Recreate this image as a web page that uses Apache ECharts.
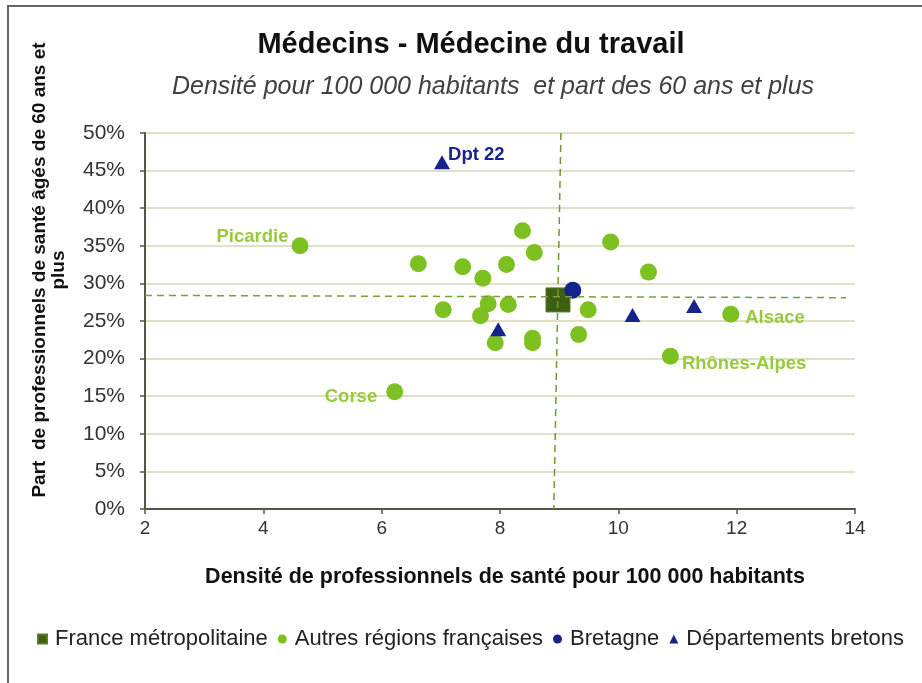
<!DOCTYPE html>
<html>
<head>
<meta charset="utf-8" />
<script src="https://cdn.jsdelivr.net/npm/echarts@6/dist/echarts.min.js"></script>
<style>
  html, body { margin: 0; padding: 0; background: #fff; }
  #chart { width: 922px; height: 683px; }
</style>
</head>
<body>
<div id="chart"></div>
<script>
// Autres régions françaises
var autresX = [6.62, 7.37, 8.11, 7.71, 8.38, 8.58, 9.87, 10.51, 7.04, 7.80, 8.14, 7.67, 9.49, 7.92, 8.55, 8.55, 9.33, 11.90, 10.88, 4.62, 6.22];
var autresY = [32.6, 32.2, 32.5, 30.7, 37.0, 34.1, 35.5, 31.5, 26.5, 27.3, 27.2, 25.7, 26.5, 22.1, 22.7, 22.1, 23.2, 25.9, 20.3, 35.0, 15.6];
var autresNoms = ["", "", "", "", "", "", "", "", "", "", "", "", "", "", "", "", "", "Alsace", "Rhônes-Alpes", "Picardie", "Corse"];
// France métropolitaine
var franceX = [8.98];
var franceY = [27.8];
// Bretagne
var bretagneX = [9.23];
var bretagneY = [29.1];
// Départements bretons
var deptX = [7.02, 7.97, 10.24, 11.28];
var deptY = [46.1, 23.9, 25.8, 27.0];
var deptNoms = ["Dpt 22", "", "", ""];
// lignes de moyenne (pointillés)
var moyVertX = [9.03, 8.91];
var moyVertY = [50, 0];
var moyHorX = [2, 13.85];
var moyHorY = [28.4, 28.1];

var legendNoms = ["France métropolitaine", "Autres régions françaises", "Bretagne", "Départements bretons"];

// placement des étiquettes
var placement = {
  "Picardie": { position: "left", distance: 3, offset: [0, -9] },
  "Corse": { position: "left", distance: 9, offset: [0, 5] },
  "Alsace": { position: "right", distance: 6, offset: [0, 4] },
  "Rhônes-Alpes": { position: "right", distance: 3, offset: [0, 8] },
  "Dpt 22": { position: "right", distance: -2, offset: [0, -7] },
};

function points(xs, ys, noms, couleur) {
  return xs.map(function (x, i) {
    var item = { value: [x, ys[i]] };
    var nom = noms ? noms[i] : "";
    if (nom) {
      var p = placement[nom];
      item.name = nom;
      item.label = {
        show: true,
        formatter: nom,
        position: p.position,
        distance: p.distance,
        offset: p.offset,
        color: couleur,
        fontFamily: "Liberation Sans",
        fontWeight: "bold",
        fontSize: 18.5,
      };
    }
    return item;
  });
}

function ligne(xs, ys) {
  return xs.map(function (x, i) { return [x, ys[i]]; });
}

var chart = echarts.init(document.getElementById("chart"));
var font = "Liberation Sans";

var options = {
  animation: false,
  textStyle: { fontFamily: font },
  graphic: [
    {
      type: "rect",
      shape: { x: 8, y: 6, width: 1000, height: 1000 },
      style: { fill: "none", stroke: "#666", lineWidth: 2 },
      silent: true,
    },
    {
      type: "text",
      x: 471, y: 45,
      style: {
        text: "Médecins - Médecine du travail",
        font: "bold 29px 'Liberation Sans'",
        fill: "#111",
        textAlign: "center",
        textVerticalAlign: "middle",
      },
    },
    {
      type: "text",
      x: 493, y: 87,
      style: {
        text: "Densité pour 100 000 habitants  et part des 60 ans et plus",
        font: "italic 25px 'Liberation Sans'",
        fill: "#404040",
        textAlign: "center",
        textVerticalAlign: "middle",
      },
    },
    {
      type: "text",
      x: 49, y: 270,
      rotation: Math.PI / 2,
      style: {
        text: "Part  de professionnels de santé âgés de 60 ans et\nplus",
        font: "bold 19px 'Liberation Sans'",
        fill: "#111",
        textAlign: "center",
        textVerticalAlign: "middle",
        lineHeight: 19,
      },
    },
  ],
  legend: {
    left: 32,
    top: 623,
    itemWidth: 9,
    itemHeight: 9,
    itemGap: 10,
    textStyle: { fontFamily: font, fontSize: 22, color: "#222", padding: [0, 0, 0, 3] },
    data: [
      { name: legendNoms[0], icon: "rect" },
      { name: legendNoms[1], icon: "circle" },
      { name: legendNoms[2], icon: "circle" },
      { name: legendNoms[3], icon: "triangle" },
    ],
  },
  grid: { left: 145, right: 67, top: 133, bottom: 174 },
  xAxis: {
    type: "value",
    min: 2,
    max: 14,
    interval: 2,
    name: "Densité de professionnels de santé pour 100 000 habitants",
    nameLocation: "middle",
    nameGap: 57,
    nameTextStyle: { fontFamily: font, fontWeight: "bold", fontSize: 21.5, color: "#111", padding: [0, 0, 0, 10] },
    axisLine: { show: true, lineStyle: { color: "#55554a", width: 2 } },
    axisTick: { show: true, length: 5, lineStyle: { color: "#55554a", width: 1.5 } },
    axisLabel: { color: "#333", fontSize: 19, margin: 10 },
    splitLine: { show: false },
  },
  yAxis: {
    type: "value",
    min: 0,
    max: 50,
    interval: 5,
    axisLine: { show: true, lineStyle: { color: "#55554a", width: 2 } },
    axisTick: { show: true, length: 5, lineStyle: { color: "#55554a", width: 1.5 } },
    axisLabel: { color: "#333", fontSize: 21, margin: 20, formatter: "{value}%" },
    splitLine: { show: true, lineStyle: { color: "#d9d4b6", width: 1.5 } },
  },
  series: [
    {
      name: legendNoms[1],
      type: "scatter",
      symbol: "circle",
      symbolSize: 17,
      itemStyle: { color: "#7cc021", opacity: 1 },
      data: points(autresX, autresY, autresNoms, "#97cb3c"),
      z: 2,
    },
    {
      name: legendNoms[0],
      type: "scatter",
      symbol: "rect",
      symbolSize: 24,
      itemStyle: { color: "#3d5f10", borderColor: "#5b7a2e", borderWidth: 1, opacity: 1 },
      data: points(franceX, franceY),
      z: 3,
    },
    {
      name: legendNoms[2],
      type: "scatter",
      symbol: "circle",
      symbolSize: 17,
      itemStyle: { color: "#15248a", opacity: 1 },
      data: points(bretagneX, bretagneY),
      z: 4,
    },
    {
      name: legendNoms[3],
      type: "scatter",
      symbol: "triangle",
      symbolSize: [16, 14],
      itemStyle: { color: "#15248a", opacity: 1 },
      data: points(deptX, deptY, deptNoms, "#15248a"),
      z: 4,
    },
    {
      type: "line",
      data: ligne(moyVertX, moyVertY),
      symbol: "none",
      silent: true,
      lineStyle: { color: "#6e9a33", width: 1.5, type: [7, 5] },
      z: 5,
    },
    {
      type: "line",
      data: ligne(moyHorX, moyHorY),
      symbol: "none",
      silent: true,
      lineStyle: { color: "#7aa03c", width: 1.5, type: [7, 5] },
      z: 5,
    },
  ],
};

chart.setOption(options);
</script>
</body>
</html>
